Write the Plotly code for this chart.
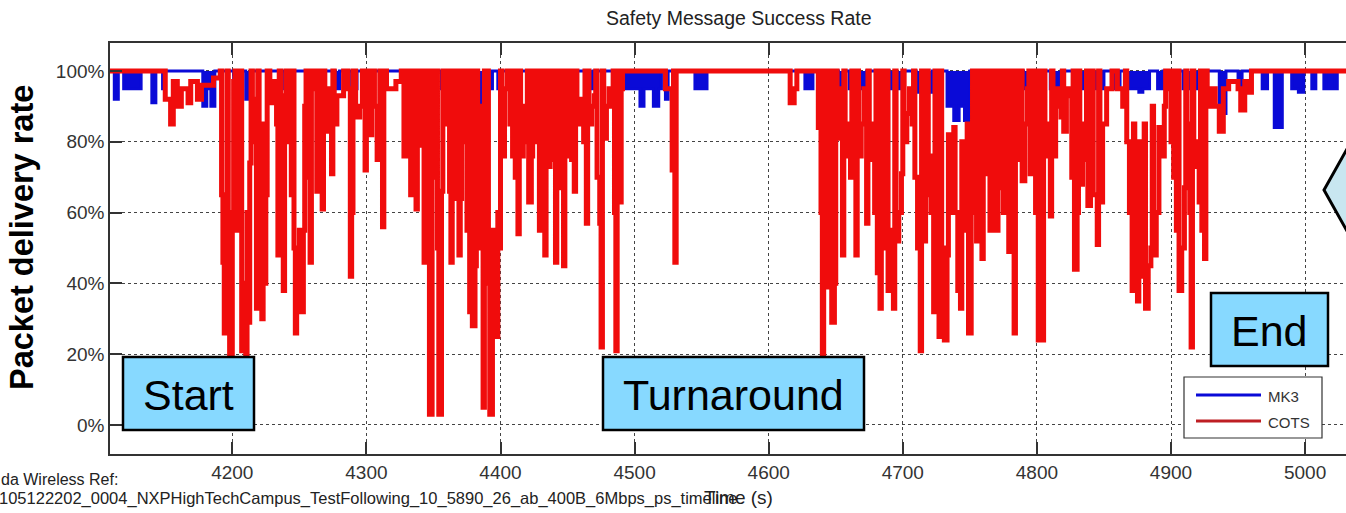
import plotly.graph_objects as go

# ---------------- data (time in s, delivery rate in %) ----------------
mk3_points = [
    (4108, 100), (4112, 92), (4115, 100), (4119, 95), (4132, 100), (4140, 91), (4143, 100),
    (4148, 95), (4150, 100), (4178, 90), (4181, 95), (4184, 90), (4187, 100), (4201, 95),
    (4207, 100), (4210, 92), (4214, 100), (4239, 95), (4242, 100), (4277, 95), (4280, 100),
    (4289, 95), (4293, 100), (4329, 95), (4333, 100), (4341, 95), (4351, 100), (4356, 95),
    (4359, 100), (4377, 95), (4383, 90), (4386, 95), (4394, 100), (4398, 95), (4401, 100),
    (4424, 95), (4427, 100), (4439, 95), (4443, 93), (4446, 95), (4450, 100), (4466, 95),
    (4469, 100), (4490, 95), (4504, 90), (4507, 95), (4514, 90), (4518, 95), (4520, 100),
    (4523, 92), (4525, 100), (4545, 95), (4554, 100), (4627, 95), (4633, 100), (4643, 95),
    (4648, 100), (4652, 95), (4656, 100), (4660, 95), (4673, 100), (4690, 95), (4700, 100),
    (4710, 94), (4722, 100), (4733, 90), (4738, 86), (4742, 90), (4746, 86), (4750, 100),
    (4756, 95), (4760, 100), (4775, 95), (4780, 100), (4790, 95), (4795, 93), (4798, 95),
    (4802, 100), (4810, 95), (4818, 100), (4830, 95), (4850, 100), (4856, 95), (4862, 100),
    (4866, 95), (4876, 94), (4879, 95), (4884, 100), (4890, 95), (4894, 100), (4909, 95),
    (4921, 100), (4936, 88), (4941, 100), (4950, 95), (4953, 100), (4968, 95), (4972, 100),
    (4977, 84), (4983, 100), (4990, 95), (4995, 94), (4999, 100), (5005, 95), (5008, 100),
    (5014, 95), (5018, 100), (5020, 95), (5024, 100), (5035, 100),
]

cots_points = [
    (4108, 100), (4149, 100), (4150, 92), (4154, 85), (4156, 97), (4159, 90), (4162, 95),
    (4167, 91), (4169, 97), (4174, 92), (4177, 96), (4186, 98), (4191, 100),
    (4192, 65), (4193, 46), (4194, 26), (4195, 60), (4196, 100), (4197, 40), (4198, 18),
    (4199, 17), (4200, 60), (4201, 97), (4202, 100), (4203, 55), (4205, 80), (4206, 100),
    (4207, 21), (4208, 40), (4210, 20), (4211, 60), (4212, 29), (4213, 74), (4214, 100),
    (4215, 92), (4217, 80), (4218, 33), (4219, 100), (4220, 45), (4221, 33), (4222, 30),
    (4223, 85), (4224, 40), (4225, 65), (4226, 100), (4228, 91), (4231, 97), (4233, 85),
    (4234, 48), (4235, 100), (4236, 70), (4238, 38), (4239, 93), (4240, 100), (4242, 80),
    (4244, 65), (4245, 100), (4246, 50), (4247, 26), (4248, 40), (4249, 32), (4250, 55),
    (4251, 32), (4253, 55), (4254, 90), (4255, 100), (4257, 70), (4258, 46), (4259, 100),
    (4260, 95), (4262, 100), (4263, 66), (4264, 100), (4265, 80), (4267, 61), (4268, 100),
    (4269, 83), (4271, 95), (4273, 90), (4274, 71), (4275, 100), (4276, 85), (4278, 93),
    (4283, 100), (4286, 95), (4288, 42), (4289, 60), (4290, 100), (4292, 87), (4295, 90),
    (4297, 100), (4299, 72), (4300, 100), (4301, 95), (4303, 82), (4304, 100), (4306, 90),
    (4308, 75), (4310, 100), (4311, 85), (4312, 56), (4313, 100), (4315, 95), (4322, 97),
    (4326, 100), (4328, 76), (4330, 100), (4331, 90), (4333, 65), (4334, 100), (4336, 85),
    (4337, 61), (4338, 100), (4340, 80),
    (4341, 79), (4342, 100), (4343, 46), (4345, 60), (4346, 100), (4347, 3), (4348, 3),
    (4349, 70), (4350, 100), (4351, 78), (4352, 100), (4353, 50), (4354, 3), (4355, 3),
    (4356, 66), (4357, 100), (4358, 90), (4360, 85), (4361, 100), (4362, 66), (4363, 46),
    (4364, 100), (4365, 64), (4367, 75), (4368, 100), (4369, 48), (4370, 64), (4371, 100),
    (4373, 80), (4374, 100), (4375, 55), (4377, 32), (4378, 100), (4379, 28), (4381, 45),
    (4382, 100), (4383, 74), (4385, 50), (4386, 90), (4387, 5), (4388, 100), (4389, 58),
    (4390, 100), (4391, 40), (4392, 3), (4393, 3), (4394, 55), (4395, 30), (4396, 50),
    (4397, 25), (4398, 60), (4399, 50), (4400, 100), (4401, 76), (4403, 95), (4405, 100),
    (4407, 85), (4409, 76), (4410, 100), (4411, 70), (4413, 54), (4414, 100), (4415, 76),
    (4417, 90), (4419, 80), (4420, 100), (4421, 63), (4423, 76), (4424, 100), (4425, 95),
    (4427, 80), (4428, 100), (4429, 55), (4431, 71), (4432, 100), (4433, 48), (4434, 100),
    (4435, 73), (4437, 85), (4438, 100), (4439, 75), (4441, 46), (4442, 100), (4443, 67),
    (4445, 80), (4446, 100), (4447, 45), (4448, 100), (4449, 76), (4451, 90), (4452, 100),
    (4453, 75), (4455, 66), (4456, 100), (4457, 85), (4460, 92), (4462, 80), (4463, 100),
    (4464, 57), (4465, 100), (4466, 85), (4468, 90), (4470, 93), (4471, 100), (4472, 70),
    (4474, 57), (4475, 22), (4476, 100), (4477, 81), (4479, 90), (4481, 95), (4483, 90),
    (4484, 100), (4485, 60), (4486, 21), (4487, 100), (4488, 63), (4490, 95), (4491, 100),
    (4522, 100), (4523, 95), (4527, 95), (4528, 72), (4529, 100), (4530, 46), (4531, 100),
    (4615, 100), (4616, 91), (4619, 95), (4621, 100), (4637, 84), (4638, 100), (4639, 60),
    (4640, 19), (4641, 70), (4642, 100), (4643, 39), (4645, 80), (4646, 100), (4647, 29),
    (4649, 40), (4650, 100), (4651, 81), (4653, 95), (4655, 48), (4656, 100), (4657, 76),
    (4659, 85), (4661, 70), (4662, 100), (4663, 76), (4665, 48), (4666, 100), (4667, 76),
    (4669, 85), (4671, 95), (4673, 57), (4674, 100), (4675, 75), (4677, 85), (4679, 60),
    (4680, 100), (4681, 43), (4683, 33), (4684, 100), (4685, 66), (4687, 50), (4688, 100),
    (4689, 38), (4691, 55), (4693, 33), (4694, 100), (4695, 52), (4697, 60), (4699, 71),
    (4700, 100), (4701, 80), (4703, 88), (4705, 95), (4707, 85), (4708, 100), (4709, 70),
    (4711, 50), (4713, 21), (4714, 100), (4715, 52), (4717, 65), (4718, 100), (4719, 76),
    (4721, 60), (4723, 32), (4724, 100), (4725, 45), (4727, 25), (4728, 100), (4729, 50),
    (4731, 24), (4733, 48), (4734, 82), (4735, 60), (4737, 82), (4738, 84), (4739, 60),
    (4741, 38), (4743, 33), (4744, 80), (4745, 76), (4747, 55), (4748, 85), (4749, 26),
    (4751, 67), (4752, 100), (4753, 60), (4755, 52), (4756, 100), (4757, 70), (4759, 47),
    (4760, 100), (4761, 71), (4763, 80), (4764, 100), (4765, 55), (4767, 87), (4768, 100),
    (4769, 55), (4771, 70), (4772, 100), (4773, 67), (4775, 60), (4776, 100), (4777, 80),
    (4779, 49), (4780, 100), (4781, 65), (4783, 26), (4784, 100), (4785, 75), (4787, 90),
    (4788, 100), (4789, 69), (4791, 85), (4793, 95), (4794, 100), (4795, 71), (4797, 80),
    (4798, 100), (4799, 60), (4801, 24), (4802, 100), (4803, 40),
    (4804, 24), (4805, 100), (4806, 76), (4808, 85), (4810, 59), (4811, 100), (4812, 76),
    (4814, 95), (4816, 90), (4818, 87), (4819, 100), (4820, 83), (4822, 95), (4824, 93),
    (4826, 70), (4827, 100), (4828, 44), (4830, 60), (4831, 100), (4832, 68), (4834, 85),
    (4836, 75), (4837, 100), (4838, 62), (4840, 76), (4841, 100), (4842, 65), (4845, 51),
    (4846, 100), (4847, 63), (4849, 85), (4852, 95), (4856, 100), (4860, 95), (4864, 90),
    (4866, 100), (4867, 80), (4869, 60), (4871, 38), (4872, 85), (4873, 45), (4875, 35),
    (4876, 80), (4877, 42), (4879, 48), (4880, 85), (4881, 33), (4883, 45), (4885, 50),
    (4886, 90), (4887, 48), (4889, 60), (4891, 84), (4893, 76), (4895, 90), (4896, 100),
    (4898, 95), (4900, 80), (4901, 100), (4902, 70), (4904, 55), (4905, 100), (4906, 38),
    (4908, 50), (4910, 67), (4911, 100), (4912, 85), (4914, 60), (4915, 22), (4916, 100),
    (4917, 73), (4919, 80), (4921, 63), (4922, 100), (4923, 55), (4925, 47), (4926, 100),
    (4927, 90), (4930, 95), (4933, 90), (4936, 83), (4939, 95), (4943, 97), (4950, 95),
    (4952, 89), (4955, 97), (4957, 94), (4960, 100), (5035, 100),
]

x_tick_values = [4200, 4300, 4400, 4500, 4600, 4700, 4800, 4900, 5000]
y_tick_values = [0, 20, 40, 60, 80, 100]
y_tick_labels = ["0%", "20%", "40%", "60%", "80%", "100%"]

series_names = ["MK3", "COTS"]
title_text = "Safety Message Success Rate"
x_title = "Time (s)"
y_title = "Packet delivery rate"
ref_line1 = "da Wireless Ref:"
ref_line2 = "105122202_0004_NXPHighTechCampus_TestFollowing_10_5890_26_ab_400B_6Mbps_ps_timeline"
box_labels = ["Start", "Turnaround", "End"]

# ---------------- layout helpers ----------------
W, H = 1346, 513
ML, MR, MT, MB = 110, 0, 43, 59
PW, PH = W - ML - MR, H - MT - MB


def fx(p):
    return (p - ML) / PW


def fy(p):
    return (H - MB - p) / PH


BLUE = "rgb(10,10,215)"
RED = "rgb(240,12,12)"
FONT = "Arial, 'Liberation Sans', Helvetica, sans-serif"

fig = go.Figure()
fig.add_trace(go.Scatter(
    x=[p[0] for p in mk3_points], y=[p[1] for p in mk3_points],
    mode="lines", line=dict(color=BLUE, width=3, shape="hv"),
    fill="toself", fillcolor=BLUE,
    name=series_names[0], showlegend=False,
))
fig.add_trace(go.Scatter(
    x=[p[0] for p in cots_points], y=[p[1] for p in cots_points],
    mode="lines", line=dict(color=RED, width=5, shape="hv"),
    name=series_names[1], showlegend=False,
))

fig.update_layout(
    width=W, height=H,
    margin=dict(l=ML, r=MR, t=MT, b=MB, pad=0),
    paper_bgcolor="white", plot_bgcolor="white",
    font=dict(family=FONT, color="#222"),
    xaxis=dict(
        range=[4108.8, 5030.5], tickvals=x_tick_values,
        ticks="inside", ticklen=12, tickwidth=1.5, tickcolor="#333",
        showline=True, linecolor="#333", linewidth=1.5, mirror="ticks",
        showgrid=True, gridcolor="#444", griddash="dot", gridwidth=1,
        zeroline=False, tickfont=dict(size=19, color="#333"),
    ),
    yaxis=dict(
        range=[-8.2, 107.9], tickvals=y_tick_values, ticktext=y_tick_labels,
        ticks="inside", ticklen=12, tickwidth=1.5, tickcolor="#333",
        showline=True, linecolor="#333", linewidth=1.5, mirror=False,
        showgrid=True, gridcolor="#444", griddash="dot", gridwidth=1,
        zeroline=False, tickfont=dict(size=19, color="#333"),
    ),
)

shapes = []
annotations = []

# title and axis titles
annotations.append(dict(text=title_text, x=fx(739), y=fy(18), xref="paper", yref="paper",
                        showarrow=False, font=dict(size=19.5, color="#222"),
                        xanchor="center", yanchor="middle"))
annotations.append(dict(text=x_title, x=fx(738), y=fy(497), xref="paper", yref="paper",
                        showarrow=False, font=dict(size=19, color="#222"),
                        xanchor="center", yanchor="middle"))
annotations.append(dict(text="<b>" + y_title + "</b>", x=fx(22), y=fy(238), xref="paper", yref="paper",
                        showarrow=False, textangle=-90, font=dict(size=32.5, color="black"),
                        xanchor="center", yanchor="middle"))
annotations.append(dict(text=ref_line1, x=fx(-1), y=fy(480), xref="paper", yref="paper",
                        showarrow=False, font=dict(size=16, color="#222"),
                        xanchor="left", yanchor="middle"))
annotations.append(dict(text=ref_line2, x=fx(-3), y=fy(498), xref="paper", yref="paper",
                        showarrow=False, font=dict(size=16.5, color="#222"),
                        xanchor="left", yanchor="middle"))

# light blue label boxes
boxes = [(123, 357, 254, 430), (603, 357, 864, 430), (1211, 293, 1328, 366)]
for (x0, y0, x1, y1), lab in zip(boxes, box_labels):
    shapes.append(dict(type="rect", xref="paper", yref="paper",
                       x0=fx(x0), x1=fx(x1), y0=fy(y1), y1=fy(y0),
                       fillcolor="rgb(135,217,255)", line=dict(color="black", width=2.5)))
    annotations.append(dict(text=lab, x=fx((x0 + x1) / 2), y=fy((y0 + y1) / 2 + 1),
                            xref="paper", yref="paper", showarrow=False,
                            font=dict(size=43, color="black"),
                            xanchor="center", yanchor="middle"))

# custom legend
lx0, ly0, lx1, ly1 = 1184, 377, 1322, 438
shapes.append(dict(type="rect", xref="paper", yref="paper", x0=fx(lx0), x1=fx(lx1),
                   y0=fy(ly1), y1=fy(ly0), fillcolor="white", line=dict(color="#333", width=1.2)))
for i, (nm, col) in enumerate(zip(series_names, [BLUE, "rgb(190,30,35)"])):
    yy = 395 + i * 26
    shapes.append(dict(type="line", xref="paper", yref="paper", x0=fx(1196), x1=fx(1261),
                       y0=fy(yy), y1=fy(yy), line=dict(color=col, width=3)))
    annotations.append(dict(text=nm, x=fx(1266), y=fy(yy + 1), xref="paper", yref="paper",
                            showarrow=False, font=dict(size=15, color="#333"),
                            xanchor="left", yanchor="middle"))

# partially visible callout shape at right edge
shapes.append(dict(type="path", xref="paper", yref="paper",
                   path="M {:.5f},{:.5f} L {:.5f},{:.5f} L {:.5f},{:.5f} Z".format(
                       fx(1352), fy(140), fx(1324), fy(190), fx(1352), fy(240)),
                   fillcolor="rgb(200,230,240)", line=dict(color="black", width=3)))

fig.update_layout(shapes=shapes, annotations=annotations)

fig.write_html(
    "out.html",
    config={"displayModeBar": False},
    post_script=(
        "document.documentElement.style.margin='0';"
        "document.body.style.margin='0';"
        "document.documentElement.style.overflow='hidden';"
        "document.body.style.overflow='hidden';"
    ),
)
